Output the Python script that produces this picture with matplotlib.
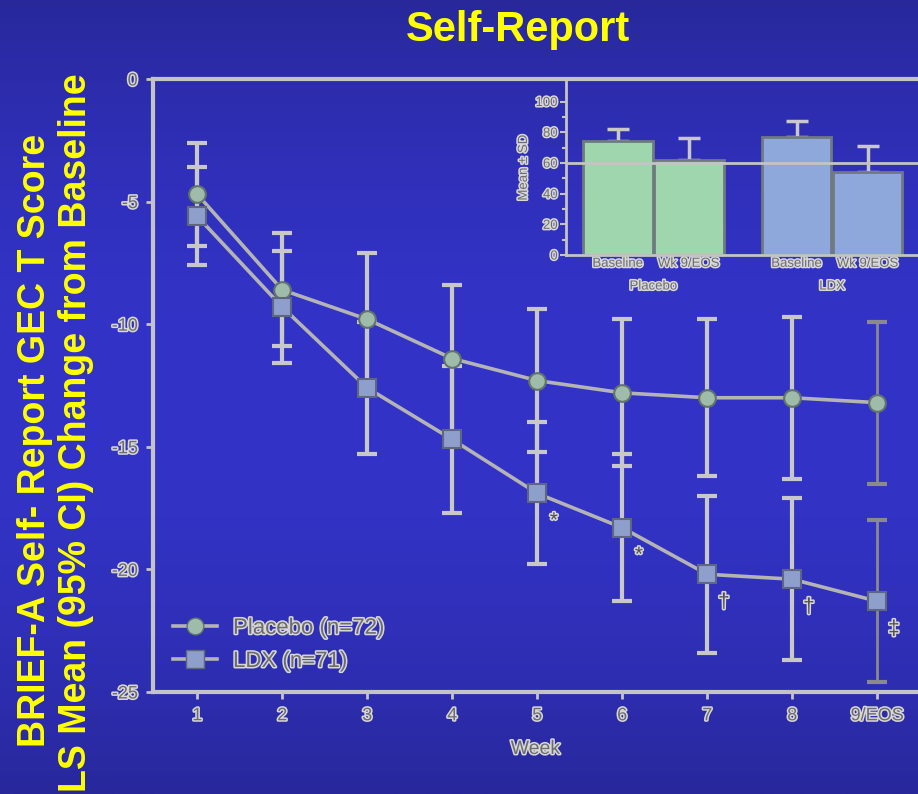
import numpy as np
import matplotlib
matplotlib.use("Agg")
import matplotlib.pyplot as plt
import matplotlib.patheffects as pe
from matplotlib.lines import Line2D

plt.rcParams['font.family'] = ['Liberation Sans', 'DejaVu Sans']
plt.rcParams['axes.unicode_minus'] = False

# weekly LS mean change from baseline, with 95% CI half widths
weeks = [1, 2, 3, 4, 5, 6, 7, 8, 9]
week_labels = ['1', '2', '3', '4', '5', '6', '7', '8', '9/EOS']
placebo_mean = [-4.7, -8.6, -9.8, -11.4, -12.3, -12.8, -13.0, -13.0, -13.2]
placebo_ci = [2.1, 2.3, 2.7, 3.0, 2.9, 3.0, 3.2, 3.3, 3.3]
ldx_mean = [-5.6, -9.3, -12.6, -14.7, -16.9, -18.3, -20.2, -20.4, -21.3]
ldx_ci = [2.0, 2.3, 2.7, 3.0, 2.9, 3.0, 3.2, 3.3, 3.3]
sig_marks = ['', '', '', '', '*', '*', '\u2020', '\u2020', '\u2021']

# inset: raw T scores, mean +- SD
bar_labels = ['Baseline', 'Wk 9/EOS', 'Baseline', 'Wk 9/EOS']
bar_groups = ['Placebo', 'LDX']
bar_mean = [74.5, 62.0, 77.0, 54.0]
bar_sd = [7.5, 14.0, 10.0, 17.0]

BG_TOP = np.array([40, 40, 155]) / 255
BG_MID = np.array([51, 51, 200]) / 255
AXC = '#c4c4c4'
TXT = '#6c6c6c'
halo = [pe.withStroke(linewidth=2.2, foreground='#d8d8d8')]

fig = plt.figure(figsize=(9.18, 7.94), dpi=100)

# blue gradient background
bg = fig.add_axes([0, 0, 1, 1], zorder=-10)
t = np.abs(np.linspace(-1, 1, 400))[:, None]
grad = BG_MID[None, :] * (1 - t[..., None] ** 2) + BG_TOP[None, :] * t[..., None] ** 2
bg.imshow(grad, aspect='auto', extent=[0, 1, 0, 1])
bg.axis('off')

fig.text(0.564, 0.962, 'Self-Report', color='#ffff00', fontsize=30,
         fontweight='bold', ha='center', va='center')
fig.text(0.038, 0.445, 'BRIEF-A Self- Report GEC T Score', color='#ffff00',
         fontsize=27, fontweight='bold', rotation=90, ha='center', va='center')
fig.text(0.083, 0.455, 'LS Mean (95% CI) Change from Baseline', color='#ffff00',
         fontsize=27, fontweight='bold', rotation=90, ha='center', va='center')

ax = fig.add_axes([0.1667, 0.1285, 0.8333, 0.772])
ax.patch.set_alpha(0)
ax.set_xlim(0.48, 9.48)
ax.set_ylim(-25, 0)

line_kw = dict(color='#b4b4b4', lw=2.6, zorder=3)
ax.plot(weeks, placebo_mean, **line_kw)
ax.plot(weeks, ldx_mean, **line_kw)

eb_kw = dict(fmt='none', capsize=7, capthick=3, zorder=2)
ax.errorbar(weeks[:8], placebo_mean[:8], yerr=placebo_ci[:8], ecolor='#c8c8c8', elinewidth=3, **eb_kw)
ax.errorbar(weeks[:8], ldx_mean[:8], yerr=ldx_ci[:8], ecolor='#c8c8c8', elinewidth=3, **eb_kw)
ax.errorbar(weeks[8:], placebo_mean[8:], yerr=placebo_ci[8:], ecolor='#8a8a8a', elinewidth=2, **eb_kw)
ax.errorbar(weeks[8:], ldx_mean[8:], yerr=ldx_ci[8:], ecolor='#8a8a8a', elinewidth=2, **eb_kw)

ax.plot(weeks, placebo_mean, 'o', ms=12, mfc='#9fbcaa', mec='#62746a', mew=1.5, zorder=4)
ax.plot(weeks, ldx_mean, 's', ms=13, mfc='#8e9fcc', mec='#5e6680', mew=1.5, zorder=4)

for w, m, s in zip(weeks, ldx_mean, sig_marks):
    if s:
        ax.annotate(s, (w, m), xytext=(12, -20), textcoords='offset points',
                    ha='center', va='center', fontsize=15, color='#505050',
                    path_effects=halo)

ax.spines['right'].set_visible(False)
for side in ['left', 'bottom', 'top']:
    ax.spines[side].set_color(AXC)
    ax.spines[side].set_linewidth(3)

ax.set_xticks(weeks)
ax.set_xticklabels(week_labels)
ax.set_yticks([0, -5, -10, -15, -20, -25])
ax.set_yticklabels(['0', '-5', '-10', '-15', '-20', '-25'])
ax.tick_params(colors=AXC, width=2, length=5, labelsize=13, labelcolor=TXT, pad=6)
for lab in ax.get_xticklabels() + ax.get_yticklabels():
    lab.set_path_effects(halo)
ax.set_xlabel('Week', fontsize=14, color=TXT, labelpad=12, path_effects=halo)

handles = [
    Line2D([], [], color='#b4b4b4', lw=2.6, marker='o', ms=12, mfc='#9fbcaa', mec='#62746a'),
    Line2D([], [], color='#b4b4b4', lw=2.6, marker='s', ms=13, mfc='#8e9fcc', mec='#5e6680'),
]
leg = ax.legend(handles, ['Placebo (n=72)', 'LDX (n=71)'], loc='lower left',
                bbox_to_anchor=(0.0, 0.0), frameon=False, fontsize=16,
                handlelength=2.0, handletextpad=0.7, labelspacing=0.55)
for txt in leg.get_texts():
    txt.set_color(TXT)
    txt.set_path_effects(halo)

# inset bar chart
ins = fig.add_axes([0.6166, 0.6788, 0.3834, 0.2204])
ins.patch.set_alpha(0)
bx = [0, 1, 2.52, 3.52]
colors = ['#9fd6ae', '#9fd6ae', '#8fa8dc', '#8fa8dc']
ins.bar(bx, bar_mean, width=0.98, color=colors, edgecolor='#6f7a80', lw=2, zorder=2)
ins.errorbar(bx, bar_mean, yerr=[[0] * 4, bar_sd], fmt='none', ecolor='#c8c8c8',
             elinewidth=2.5, capsize=8, capthick=2.5, zorder=1)
ins.axhline(60, color=AXC, lw=2, zorder=3)
ins.set_xlim(-0.73, 4.23)
ins.set_ylim(0, 114)
ins.set_yticks([0, 20, 40, 60, 80, 100])
ins.set_yticks([10, 30, 50, 70, 90], minor=True)
ins.set_xticks(bx)
ins.set_xticklabels(bar_labels)
ins.tick_params(colors=AXC, width=1.5, length=4, labelsize=9.5, labelcolor=TXT, pad=2)
ins.tick_params(axis='x', length=0)
ins.tick_params(which='minor', length=3, width=1.5, colors=AXC)
for lab in ins.get_xticklabels() + ins.get_yticklabels():
    lab.set_path_effects(halo)
for side in ['right', 'top']:
    ins.spines[side].set_visible(False)
for side in ['left', 'bottom']:
    ins.spines[side].set_color(AXC)
    ins.spines[side].set_linewidth(2)
ins.set_ylabel('Mean \u00b1 SD', fontsize=9.5, color=TXT, labelpad=4, path_effects=halo)
for gx, g in zip([0.5, 3.02], bar_groups):
    ins.text(gx, -0.18, g, transform=ins.get_xaxis_transform(), ha='center',
             va='center', fontsize=9.5, color=TXT, path_effects=halo)

fig.savefig('out.png', dpi=100)
